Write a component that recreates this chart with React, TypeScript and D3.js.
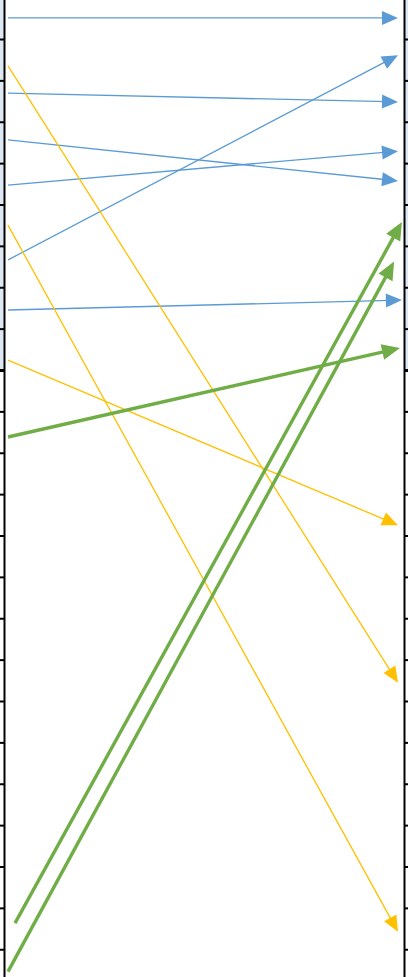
import React, { useRef, useEffect } from "react";
import * as d3 from "d3";

// each arrow: start at x=0 side, end at x=1 side
const groups = ["blue", "blue", "blue", "blue", "blue", "blue", "orange", "orange", "orange", "green", "green", "green"];
const startX = [0, 0, 0, 0, 0, 0, 0, 0, 0, 0, 0.018, 0];
const endX = [1, 1, 1, 1, 1, 1.01, 1, 1, 1, 1.005, 1.01, 0.99];
const startY = [8.51, 2.66, 6.69, 5.56, 4.47, 1.45, 7.35, 3.5, 0.24, -1.62, -13.37, -14.54];
const endY = [8.51, 7.61, 6.48, 4.57, 5.29, 1.69, -7.56, -13.58, -3.75, 0.53, 3.58, 2.62];

const colors: Record<string, string> = { blue: "#5b9bd5", orange: "#ffc000", green: "#70ad47" };
const widths: Record<string, number> = { blue: 1.3, orange: 1.3, green: 3.4 };
const heads: Record<string, [number, number]> = { blue: [16, 7], orange: [16, 7], green: [18, 8] };

const W = 408;
const H = 977;

const App = () => {
  const leftAxis = useRef<SVGGElement>(null);
  const rightAxis = useRef<SVGGElement>(null);

  const x = d3.scaleLinear().domain([0, 1]).range([8, 398]);
  const y = d3.scaleLinear().domain([-15, 9]).range([370 + 15 * 41.375, 370 - 9 * 41.375]);
  const tickVals = d3.range(-15, 10);

  useEffect(() => {
    const style = (g: d3.Selection<SVGGElement, unknown, null, undefined>) => {
      g.selectAll(".domain").attr("stroke", "#000").attr("stroke-width", 2);
      g.selectAll(".tick line")
        .attr("stroke", "#000")
        .attr("stroke-width", (d: any) => (d === 0 ? 3 : 2));
    };
    if (leftAxis.current) {
      const g = d3.select(leftAxis.current);
      g.selectAll("*").remove();
      g.call(d3.axisLeft(y).tickValues(tickVals).tickSize(5).tickSizeOuter(0).tickFormat(() => ""));
      style(g);
    }
    if (rightAxis.current) {
      const g = d3.select(rightAxis.current);
      g.selectAll("*").remove();
      g.call(d3.axisRight(y).tickValues(tickVals).tickSize(5).tickSizeOuter(0).tickFormat(() => ""));
      style(g);
    }
  }, []);

  return (
    <svg width={W} height={H} style={{ position: "absolute", left: 0, top: 0 }}>
      <rect x={0} y={0} width={W} height={H} fill="#fff" />
      <rect x={0} y={0} width={4} height={y(0)} fill="#dde8f4" />
      <rect x={404} y={0} width={4} height={y(0)} fill="#dde8f4" />
      <g ref={leftAxis} transform="translate(4,0)" />
      <g ref={rightAxis} transform="translate(404,0)" />
      {groups.map((grp, i) => {
        const x0 = x(startX[i]);
        const y0 = y(startY[i]);
        const x1 = x(endX[i]);
        const y1 = y(endY[i]);
        const ang = Math.atan2(y1 - y0, x1 - x0);
        const [len, half] = heads[grp];
        const xe = x1 - Math.cos(ang) * len * 0.7;
        const ye = y1 - Math.sin(ang) * len * 0.7;
        return (
          <g key={i}>
            <line x1={x0} y1={y0} x2={xe} y2={ye} stroke={colors[grp]} strokeWidth={widths[grp]} />
            <path
              d={`M0,0L${-len},${-half}L${-len},${half}Z`}
              transform={`translate(${x1},${y1}) rotate(${(ang * 180) / Math.PI})`}
              fill={colors[grp]}
            />
          </g>
        );
      })}
    </svg>
  );
};

export default App;
